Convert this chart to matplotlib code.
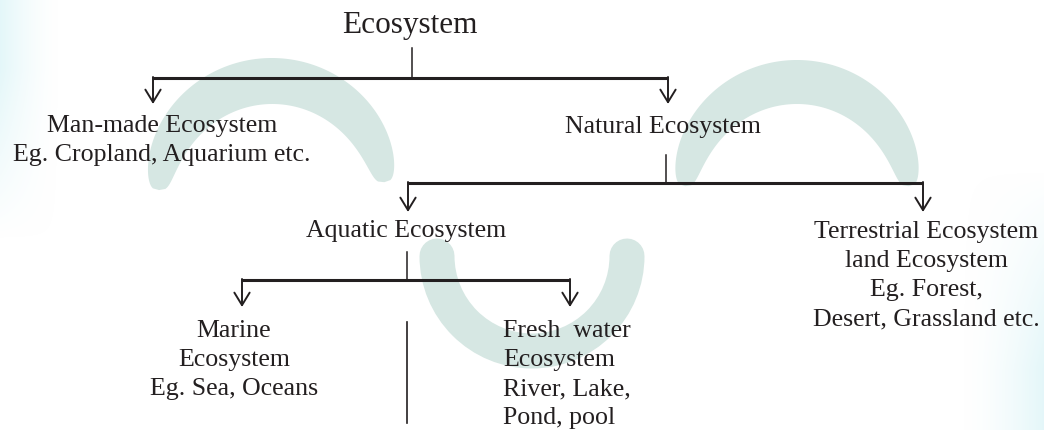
import numpy as np
import matplotlib.pyplot as plt
from matplotlib.patches import Arc, FancyArrowPatch, Polygon

plt.rcParams['font.family'] = ['Liberation Serif', 'DejaVu Serif']

# text of each box, one entry per line
root = ["Ecosystem"]
manmade = ["Man-made Ecosystem", "Eg. Cropland, Aquarium etc."]
natural = ["Natural Ecosystem"]
aquatic = ["Aquatic Ecosystem"]
terrestrial = ["Terrestrial Ecosystem", "land Ecosystem", "Eg. Forest,", "Desert, Grassland etc."]
marine = ["Marine", "Ecosystem", "Eg. Sea, Oceans"]
freshwater = ["Fresh  water", "Ecosystem", "River, Lake,", "Pond, pool"]

nodes = {"root": root, "manmade": manmade, "natural": natural, "aquatic": aquatic,
         "terrestrial": terrestrial, "marine": marine, "freshwater": freshwater}
tree = {"root": ["manmade", "natural"],
        "natural": ["aquatic", "terrestrial"],
        "aquatic": ["marine", "freshwater"]}

# layout in pixels (x, first baseline, alignment)
pos = {"root": (410, 33, "center"), "manmade": (162, 132, "center"),
       "natural": (663, 133, "center"), "aquatic": (406, 237, "center"),
       "terrestrial": (926, 238, "center"), "marine": (234, 337, "center"),
       "freshwater": (503, 337, "left")}
# stem x, stem top, bar y, arrow tip y, child x's
branch = {"root": (412, 48, 78, 104, [153, 668]),
          "natural": (666, 155, 183, 212, [408, 923]),
          "aquatic": (407, 252, 280, 307, [242, 570])}
line_gap = 29
ink = "#231f20"
wm = "#d6e7e3"

fig = plt.figure(figsize=(10.44, 4.30), dpi=100)
ax = fig.add_axes([0, 0, 1, 1])

# faint cyan tint at the edges, fading out
def tint(extent, fx, fy):
    xs = np.linspace(0, 1, 80)
    ys = np.linspace(0, 1, 80)
    img = np.zeros((80, 80, 4))
    img[..., 0] = 0.86
    img[..., 1] = 0.96
    img[..., 2] = 0.97
    img[..., 3] = np.outer(fy(ys), fx(xs)) * 0.75
    ax.imshow(img, extent=extent, aspect="auto", zorder=0, interpolation="bilinear")

tint([0, 60, 240, 0], lambda x: (1 - x) ** 1.5, lambda y: np.clip(1.4 - 1.4 * y, 0, 1))
tint([960, 1044, 430, 170], lambda x: x ** 1.6, lambda y: np.clip(1.3 * y, 0, 1))

# watermark: tapered crescents with blunt ends
def crescent(cx, cy, r, t1, t2, half):
    t = np.radians(np.linspace(t1, t2, 240))
    s = np.linspace(0, 1, 240)
    w = half * np.sin(np.pi * s) ** 0.3
    outer = np.column_stack([cx + (r + w) * np.cos(t), cy + (r + w) * np.sin(t)])
    inner = np.column_stack([cx + (r - w) * np.cos(t), cy + (r - w) * np.sin(t)])
    ax.add_patch(Polygon(np.vstack([outer, inner[::-1]]), closed=True,
                         facecolor=wm, edgecolor="none", zorder=1))

crescent(272, 194, 113, 182, 354, 23)
crescent(797, 194, 112, 184, 356, 22)
px = 72 / 100
ax.add_patch(Arc((532, 256), 190, 190, theta1=0, theta2=180, lw=35 * px,
                 color=wm, capstyle="round", zorder=1))

# connectors
for parent, (sx, top, bar, tip, kids_x) in branch.items():
    ax.plot([sx, sx], [top, bar], color=ink, lw=1.1, zorder=3)
    ax.plot([min(kids_x), max(kids_x)], [bar, bar], color=ink, lw=2.2,
            solid_capstyle="butt", zorder=3)
    for kx in kids_x:
        ax.add_patch(FancyArrowPatch((kx, bar - 1), (kx, tip),
                                     arrowstyle="->,head_length=0.9,head_width=0.55",
                                     mutation_scale=10, lw=1.4, color=ink,
                                     shrinkA=0, shrinkB=0, zorder=3))
ax.plot([407, 407], [322, 423], color=ink, lw=1.2, zorder=3)

# labels
for key, lines in nodes.items():
    x, y, ha = pos[key]
    size = 22.5 if key == "root" else 18.6
    for i, s in enumerate(lines):
        ax.text(x, y + i * line_gap, s, ha=ha, va="baseline", fontsize=size,
                color=ink, zorder=4)

ax.set_xlim(0, 1044)
ax.set_ylim(430, 0)
ax.axis("off")
fig.savefig("out.png", dpi=100, facecolor="white")
